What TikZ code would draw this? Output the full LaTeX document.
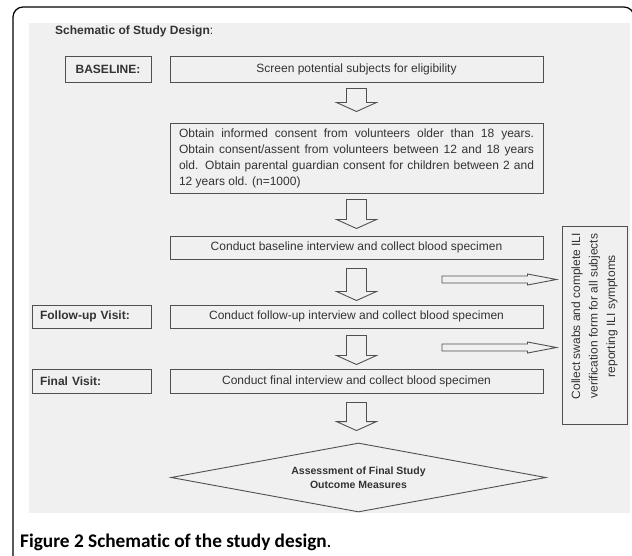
\documentclass[tikz,border=0pt]{standalone}
\usepackage{fontspec}
\setmainfont{Liberation Sans}
\newfontfamily\capfont[Ligatures=NoCommon]{Carlito}
\usetikzlibrary{shapes.geometric,calc}
\definecolor{bg}{HTML}{F0F0F0}
\definecolor{ln}{HTML}{505050}
\definecolor{tx}{HTML}{333333}
\newcommand{\blockdown}[4]{%
  \draw[blk] let \p1=(#1.south), \p2=(#2.north) in
    (\x1-10pt,\y1-#3pt) -- (\x1+10pt,\y1-#3pt) -- (\x1+10pt,\y2+#4pt+9pt)
    -- (\x1+20pt,\y2+#4pt+9pt) -- (\x1,\y2+#4pt) -- (\x1-20pt,\y2+#4pt+9pt)
    -- (\x1-10pt,\y2+#4pt+9pt) -- cycle;}
\newcommand{\blockright}[2]{%
  \draw[blk] let \p1=(#1), \p2=(#2.west) in
    (\x1,\y1+3.5pt) -- (\x2-34pt,\y1+3.5pt) -- (\x2-34pt,\y1+5.5pt)
    -- (\x2-5pt,\y1) -- (\x2-34pt,\y1-5.5pt) -- (\x2-34pt,\y1-3.5pt)
    -- (\x1,\y1-3.5pt) -- cycle;}
\begin{document}
\begin{tikzpicture}[x=1pt,y=-1pt,
  box/.style={draw=ln, line width=1pt, rectangle, inner sep=0pt, text=tx,
    font=\fontsize{12}{14}\selectfont},
  lab/.style={box, font=\bfseries\fontsize{12}{14}\selectfont},
  blk/.style={draw=ln, line width=0.9pt, fill=bg, line join=miter},
]
\useasboundingbox (0,0) rectangle (632,555);
\fill[white] (0,0) rectangle (632,555);
\fill[bg] (29,23) rectangle (630,513);
\draw[line width=1.2pt, rounded corners=10pt] (13,570) -- (13,7) -- (634,7) -- (634,570);

\node[anchor=west, inner sep=0pt, font=\bfseries\fontsize{12}{14}\selectfont, text=tx] (title) at (55,31) {Schematic of Study Design\mdseries:};

\node[lab, minimum width=86pt, minimum height=26pt] (lbase) at (108,69) {BASELINE:};
\node[lab, inner xsep=8pt, text width=103pt, align=left, minimum height=23pt] (lfollow) at (91.5,316.5) {Follow-up Visit:};
\node[lab, inner xsep=8pt, text width=103pt, align=left, minimum height=24pt] (lfinal) at (91.5,381) {Final Visit:};

\node[box, minimum width=373pt, minimum height=26pt] (screen) at (356.5,69) {Screen potential subjects for eligibility};
\node[box, minimum width=373pt, minimum height=70pt] (consent) at (356.5,158) {\parbox{355pt}{\fontsize{12}{16}\selectfont\noindent
\makebox[355pt][s]{Obtain informed consent from volunteers older than 18 years.}\\
\makebox[355pt][s]{Obtain consent/assent from volunteers between 12 and 18 years}\\
\makebox[355pt][s]{old. Obtain parental guardian consent for children between 2 and}\\
12 years old. (n=1000)}};
\node[box, minimum width=373pt, minimum height=23pt] (base) at (356.5,247.5) {Conduct baseline interview and collect blood specimen};
\node[box, minimum width=373pt, minimum height=23pt] (follow) at (356.5,316.5) {Conduct follow-up interview and collect blood specimen};
\node[box, minimum width=373pt, minimum height=24pt] (final) at (356.5,381) {Conduct final interview and collect blood specimen};

\node[draw=ln, line width=0.9pt, diamond, aspect=5.43, minimum width=375pt, minimum height=69pt, inner sep=0pt, align=center, text=tx, font=\bfseries\fontsize{10.5}{14}\selectfont] (assess) at (358.5,477.5) {Assessment of Final Study\\Outcome Measures};

\node[box, minimum width=65pt, minimum height=198pt] (side) at (594.5,325) {};
\node[rotate=90, align=center, text=tx, inner sep=0pt, font=\fontsize{12}{17.5}\selectfont] (sidetext) at (594.5,316) {Collect swabs and complete ILI\\verification form for all subjects\\reporting ILI symptoms};

\blockdown{screen}{consent}{6}{11}
\blockdown{consent}{base}{6}{7}
\blockdown{base}{follow}{9}{4}
\blockdown{follow}{final}{7}{4}
\blockdown{final}{assess}{9}{12}

\coordinate (h1) at (442,279.5);
\coordinate (h2) at (442,347.5);
\blockright{h1}{side}
\blockright{h2}{side}

\node[anchor=base west, inner sep=0pt, font=\capfont\bfseries\fontsize{19.3}{24}\selectfont] (cap) at (20,547) {Figure 2 Schematic of the study design\mdseries.};
\end{tikzpicture}
\end{document}
